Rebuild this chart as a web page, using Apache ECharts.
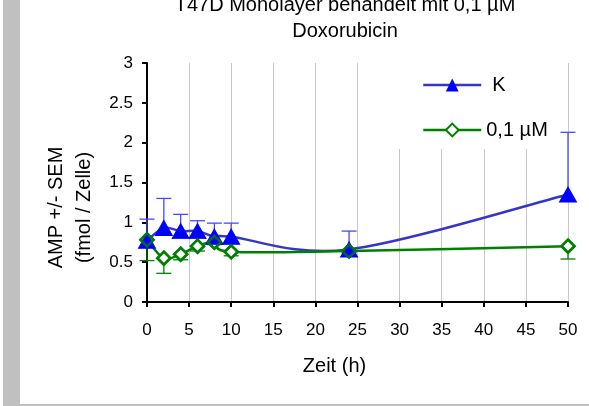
<!DOCTYPE html>
<html><head><meta charset="utf-8">
<script src="https://cdn.jsdelivr.net/npm/echarts@6/dist/echarts.min.js"></script>
<style>html,body{margin:0;padding:0;background:#fff}#c{width:589px;height:406px}</style>
</head><body><div id="c"></div>
<script>
const hours = [0, 2, 4, 6, 8, 10, 24, 50];
const kValues = [0.77, 0.93, 0.89, 0.89, 0.82, 0.82, 0.66, 1.35];
const kSem = [0.27, 0.37, 0.21, 0.13, 0.17, 0.17, 0.23, 0.78];
const doxValues = [0.78, 0.55, 0.60, 0.70, 0.75, 0.63, 0.64, 0.70];
const doxSem = [0.26, 0.19, 0.07, 0.06, 0.03, 0.05, 0.02, 0.16];
const xTicks = [0, 5, 10, 15, 20, 25, 30, 35, 40, 45, 50];
const yTicks = [0, 0.5, 1, 1.5, 2, 2.5, 3];

const FONT = 'Liberation Sans, Arial, sans-serif';
const BLUE_LINE = '#3535cc', BLUE = '#0000ff', BLUE_ERR = '#4848ff', GREEN = '#008000';
const chart = echarts.init(document.getElementById('c'), null, {renderer: 'canvas'});

function errRender(color) {
  return function (params, api) {
    const x = api.value(0), y0 = api.value(1), y1 = api.value(2);
    const p0 = api.coord([x, y0]);
    const p1 = api.coord([x, y1]);
    const hw = 7.5;
    return {
      type: 'group',
      children: [
        {type: 'line', shape: {x1: p0[0], y1: p0[1], x2: p1[0], y2: p1[1]}, style: {stroke: color, lineWidth: 1.3}},
        {type: 'line', shape: {x1: p1[0] - hw, y1: p1[1], x2: p1[0] + hw, y2: p1[1]}, style: {stroke: color, lineWidth: 1.3}}
      ]
    };
  };
}

// Excel-like smoothed line: cubic Bezier segments through the data points
function smoothRender(xs, ys, color, width) {
  return function (params, api) {
    const n = xs.length, i = params.dataIndex;
    if (i >= n - 1) return {type: 'group', children: []};
    const P = j => { const k = Math.max(0, Math.min(n - 1, j)); return api.coord([xs[k], ys[k]]); };
    const p0 = P(i - 1), p1 = P(i), p2 = P(i + 1), p3 = P(i + 2);
    const c1 = [p1[0] + (p2[0] - p0[0]) / 6, p1[1] + (p2[1] - p0[1]) / 6];
    const c2 = [p2[0] - (p3[0] - p1[0]) / 6, p2[1] - (p3[1] - p1[1]) / 6];
    return {
      type: 'bezierCurve',
      shape: {x1: p1[0], y1: p1[1], cpx1: c1[0], cpy1: c1[1], cpx2: c2[0], cpy2: c2[1], x2: p2[0], y2: p2[1]},
      style: {stroke: color, lineWidth: width, fill: 'none'}
    };
  };
}

const kErr = hours.map((h, i) => [h, kValues[i], kValues[i] + kSem[i]]);
const doxErr = hours.map((h, i) => [h, doxValues[i], doxValues[i] - doxSem[i]]);
const kPts = hours.map((h, i) => [h, kValues[i]]);
const doxPts = hours.map((h, i) => [h, doxValues[i]]);

chart.setOption({
  animation: false,
  backgroundColor: '#fff',
  textStyle: {fontFamily: FONT},
  title: {
    text: 'T47D Monolayer behandelt mit 0,1 µM\nDoxorubicin',
    left: 340, textAlign: 'center', top: -13,
    textStyle: {fontFamily: FONT, fontSize: 20, fontWeight: 'normal', color: '#000', lineHeight: 26}
  },
  graphic: [
    {type: 'rect', shape: {x: 3, y: 0, width: 17, height: 406}, style: {fill: '#c0c0c0'}, z: 0},
    {type: 'rect', shape: {x: 3, y: 404, width: 586, height: 2}, style: {fill: '#c0c0c0'}, z: 0},
    {type: 'rect', shape: {x: 365, y: 63, width: 190, height: 86}, style: {fill: '#fff'}, z: 1}
  ],
  legend: {
    orient: 'vertical', left: 417, top: 70, itemGap: 25,
    itemWidth: 58, itemHeight: 16,
    textStyle: {fontFamily: FONT, fontSize: 20, color: '#000'},
    data: [
      {name: 'K', textStyle: {padding: [0, 0, 0, 6]}, lineStyle: {color: BLUE_LINE, width: 2.5, opacity: 1}},
      {name: '0,1 µM', lineStyle: {color: GREEN, width: 2.5, opacity: 1}}
    ]
  },
  grid: {left: 147, right: 21, top: 63, bottom: 104},
  xAxis: {
    type: 'value', min: 0, max: 50, interval: 5,
    name: 'Zeit (h)', nameLocation: 'middle', nameGap: 54,
    nameTextStyle: {fontFamily: FONT, fontSize: 20, color: '#000', padding: [0, 46, 0, 0]},
    axisLine: {lineStyle: {color: '#000', width: 2}},
    axisTick: {show: true, length: 5, lineStyle: {color: '#000', width: 2}},
    axisLabel: {fontFamily: FONT, fontSize: 17, color: '#000', margin: 20,
      formatter: v => xTicks.includes(v) ? String(v) : ''},
    splitLine: {show: true, lineStyle: {color: '#c8c8c8', width: 1}}
  },
  yAxis: {
    type: 'value', min: 0, max: 3, interval: 0.5,
    name: 'AMP +/- SEM\n(fmol / Zelle)', nameLocation: 'middle', nameGap: 48, nameRotate: 90,
    nameTextStyle: {fontFamily: FONT, fontSize: 20, color: '#000', lineHeight: 28, padding: [0, 50, 0, 0]},
    axisLine: {lineStyle: {color: '#000', width: 2}},
    axisTick: {show: true, length: 5, lineStyle: {color: '#000', width: 2}},
    axisLabel: {fontFamily: FONT, fontSize: 17, color: '#000', margin: 14,
      formatter: v => yTicks.includes(v) ? String(v) : ''},
    splitLine: {show: false}
  },
  series: [
    {type: 'custom', name: 'kErr', data: kErr, renderItem: errRender(BLUE_ERR), z: 2, silent: true},
    {type: 'custom', name: 'doxErr', data: doxErr, renderItem: errRender(GREEN), z: 2, silent: true},
    {type: 'custom', name: 'kCurve', data: kPts, renderItem: smoothRender(hours, kValues, BLUE_LINE, 2.5), z: 2, silent: true},
    {type: 'custom', name: 'doxCurve', data: doxPts, renderItem: smoothRender(hours, doxValues, GREEN, 2.5), z: 2, silent: true},
    {
      type: 'line', name: '0,1 µM', data: doxPts,
      symbol: 'diamond', symbolSize: 13,
      lineStyle: {color: GREEN, width: 2.5, opacity: 0},
      itemStyle: {color: '#fff', borderColor: GREEN, borderWidth: 2.5}, z: 3
    },
    {
      type: 'line', name: 'K', data: kPts,
      symbol: 'triangle', symbolSize: [17, 15],
      lineStyle: {color: BLUE_LINE, width: 2.5, opacity: 0},
      itemStyle: {color: BLUE, borderColor: BLUE}, z: 4
    },
    {
      type: 'scatter', name: 'doxOutline', data: doxPts,
      symbol: 'diamond', symbolSize: 13, silent: true,
      itemStyle: {color: 'rgba(0,0,0,0)', borderColor: GREEN, borderWidth: 2.5}, z: 5
    }
  ]
});
</script></body></html>
